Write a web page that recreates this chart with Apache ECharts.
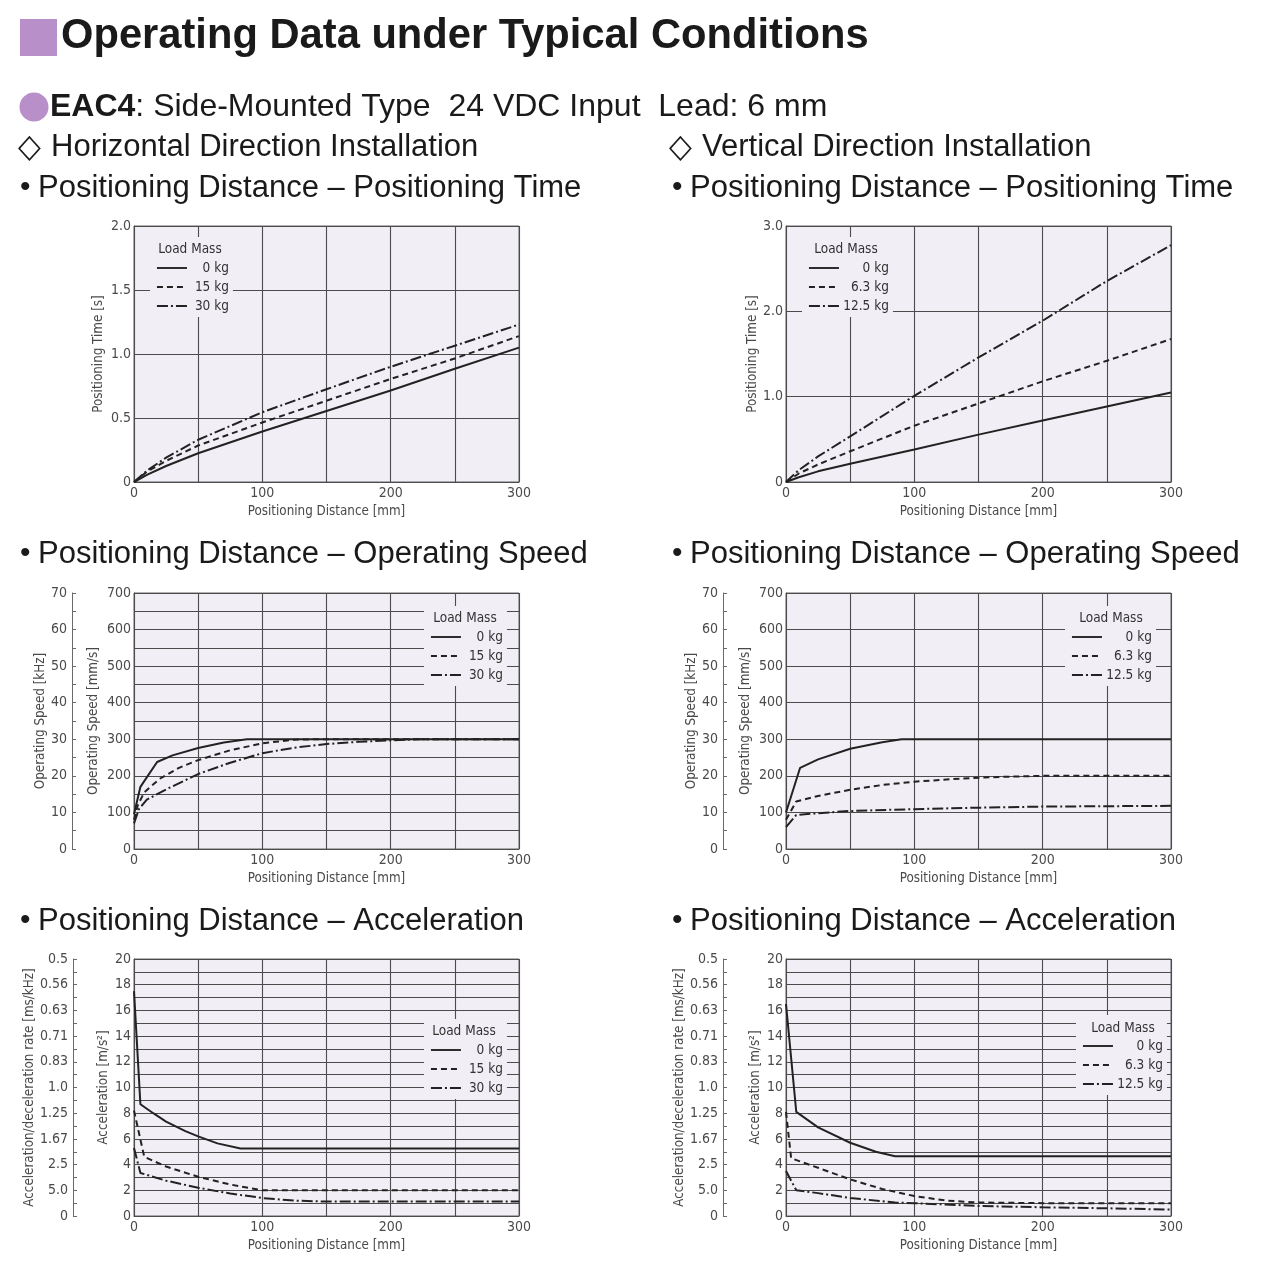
<!DOCTYPE html>
<html><head><meta charset="utf-8">
<script src="https://cdn.jsdelivr.net/npm/echarts@6/dist/echarts.min.js"></script>
<style>html,body{margin:0;padding:0;background:#fff}#c{width:1280px;height:1272px}</style>
</head><body><div id="c"></div>
<script>
// ---------- data ----------
const xTickLabels = ['0', '100', '200', '300'];
const timeTickLabelsH = ['0', '0.5', '1.0', '1.5', '2.0'];
const timeTickLabelsV = ['0', '1.0', '2.0', '3.0'];
const speedTickLabels = ['0', '100', '200', '300', '400', '500', '600', '700'];
const kHzTickLabels = ['0', '10', '20', '30', '40', '50', '60', '70'];
const accTickLabels = ['0', '2', '4', '6', '8', '10', '12', '14', '16', '18', '20'];
const accRateTickLabels = ['0', '5.0', '2.5', '1.67', '1.25', '1.0', '0.83', '0.71', '0.63', '0.56', '0.5'];

const massesH = ['0 kg', '15 kg', '30 kg'];
const massesV = ['0 kg', '6.3 kg', '12.5 kg'];

// Horizontal: positioning time [s]
const hTime0  = [[0,0],[10,0.055],[25,0.125],[50,0.225],[100,0.395],[150,0.555],[200,0.715],[250,0.885],[300,1.05]];
const hTime15 = [[0,0],[10,0.08],[25,0.165],[50,0.285],[100,0.465],[150,0.635],[200,0.805],[250,0.965],[300,1.14]];
const hTime30 = [[0,0],[10,0.088],[25,0.19],[50,0.33],[100,0.545],[150,0.725],[200,0.90],[250,1.065],[300,1.23]];
// Vertical: positioning time [s]
const vTime0   = [[0,0],[10,0.055],[25,0.125],[50,0.215],[100,0.38],[150,0.555],[200,0.72],[250,0.885],[300,1.05]];
const vTime63  = [[0,0],[10,0.1],[25,0.205],[50,0.36],[100,0.66],[150,0.92],[200,1.18],[250,1.42],[300,1.675]];
const vTime125 = [[0,0],[10,0.14],[25,0.3],[50,0.535],[100,1.01],[150,1.46],[200,1.89],[250,2.355],[300,2.775]];
// Horizontal: operating speed [mm/s]
const hSpeed0  = [[0,95],[5,170],[18,238],[30,256],[50,276],[70,291],[88,300],[300,300]];
const hSpeed15 = [[0,80],[3,120],[8,155],[20,192],[35,222],[50,243],[75,270],[100,289],[125,299],[140,300],[300,300]];
const hSpeed30 = [[0,70],[4,110],[10,135],[25,163],[50,205],[75,236],[100,262],[125,277],[150,287],[175,293],[200,297],[220,300],[300,300]];
// Vertical: operating speed [mm/s]
const vSpeed0   = [[0,100],[11,222],[25,245],[50,274],[75,292],[90,300],[300,300]];
const vSpeed63  = [[0,80],[8,130],[25,145],[50,162],[75,175],[100,184],[125,190],[150,195],[175,198],[200,200],[300,200]];
const vSpeed125 = [[0,60],[8,93],[25,98],[50,104],[100,109],[150,113],[200,116],[250,117],[300,118]];
// Horizontal: acceleration [m/s2]
const hAcc0  = [[0,17.5],[5,8.7],[15,8.0],[25,7.35],[40,6.6],[50,6.2],[65,5.65],[83,5.25],[300,5.25]];
const hAcc15 = [[0,8.2],[8,4.6],[25,3.85],[50,3.05],[75,2.45],[100,2.0],[300,2.0]];
const hAcc30 = [[0,5.3],[5,3.35],[25,2.75],[50,2.2],[75,1.75],[100,1.4],[125,1.2],[150,1.12],[300,1.12]];
// Vertical: acceleration [m/s2]
const vAcc0   = [[0,16.5],[8,8.1],[25,6.9],[50,5.7],[70,5.0],[85,4.65],[300,4.65]];
const vAcc63  = [[0,8.1],[4,4.5],[25,3.75],[50,2.85],[75,2.1],[100,1.55],[125,1.2],[150,1.05],[200,1.0],[300,1.0]];
const vAcc125 = [[0,3.5],[8,2.0],[25,1.78],[50,1.4],[85,1.05],[100,1.0],[150,0.78],[200,0.68],[250,0.6],[300,0.5]];

// ---------- styles ----------
const NARROW = '"DejaVu Sans Condensed", "Liberation Sans Narrow", sans-serif';
const SANS = '"Liberation Sans", Arial, sans-serif';
const PLOT_BG = '#f2eef5';
const GRIDC = '#4c4c4c';
const LINEC = '#222222';
const TXT = '#4a4a4a';
const dashTypes = ['solid', [6, 4], [11, 3, 2, 3]];

const grids = [
  {left: 134, top: 226, width: 385, height: 256},
  {left: 786, top: 226, width: 385, height: 256},
  {left: 134, top: 593, width: 385, height: 256},
  {left: 786, top: 593, width: 385, height: 256},
  {left: 134, top: 959, width: 385, height: 257},
  {left: 786, top: 959, width: 385, height: 257}
].map(g => Object.assign({show: true, backgroundColor: PLOT_BG, borderColor: '#666', borderWidth: 1, containLabel: false}, g));

const labelStyle = {fontFamily: NARROW, fontSize: 14, color: TXT};
const nameStyle = {fontFamily: NARROW, fontSize: 13.3, color: TXT};

const xAxes = grids.map((g, i) => ({
  type: 'value', gridIndex: i, min: 0, max: 300, interval: 50,
  name: 'Positioning Distance [mm]', nameLocation: 'middle', nameGap: 23, nameTextStyle: nameStyle,
  axisLine: {show: true, lineStyle: {color: GRIDC}}, axisTick: {show: false},
  axisLabel: Object.assign({margin: 4, formatter: v => (v % 100 === 0 ? xTickLabels[v / 100] : '')}, labelStyle),
  splitLine: {show: true, lineStyle: {color: GRIDC, width: 1.1}}
}));

function primaryY(i, max, interval, name, gap, fmt) {
  return {
    type: 'value', gridIndex: i, min: 0, max: max, interval: interval, position: 'left',
    name: name, nameLocation: 'middle', nameGap: gap, nameTextStyle: nameStyle,
    axisLine: {show: true, lineStyle: {color: GRIDC}}, axisTick: {show: false},
    axisLabel: Object.assign({margin: 3, formatter: fmt}, labelStyle),
    splitLine: {show: true, lineStyle: {color: GRIDC, width: 1.1}}
  };
}
function secondaryY(i, max, interval, offset, name, gap, fmt) {
  return {
    type: 'value', gridIndex: i, min: 0, max: max, interval: interval, position: 'left', offset: offset,
    name: name, nameLocation: 'middle', nameGap: gap, nameTextStyle: nameStyle,
    axisLine: {show: true, lineStyle: {color: '#6a6a6a'}},
    axisTick: {show: true, inside: true, length: 4, lineStyle: {color: '#6a6a6a'}},
    axisLabel: Object.assign({margin: 5, formatter: fmt}, labelStyle),
    splitLine: {show: false}
  };
}
const fmtTimeH = v => timeTickLabelsH[Math.round(v / 0.5)];
const fmtTimeV = v => timeTickLabelsV[Math.round(v)];
const fmtSpeed = v => (v % 100 === 0 ? speedTickLabels[v / 100] : '');
const fmtKHz = v => (v % 10 === 0 ? kHzTickLabels[v / 10] : '');
const fmtAcc = v => (v % 2 === 0 ? accTickLabels[v / 2] : '');
const fmtAccRate = v => (v % 2 === 0 ? accRateTickLabels[v / 2] : '');

const yAxes = [
  primaryY(0, 2, 0.5, 'Positioning Time [s]', 29, fmtTimeH),
  primaryY(1, 3, 1, 'Positioning Time [s]', 26, fmtTimeV),
  primaryY(2, 700, 50, 'Operating Speed [mm/s]', 34, fmtSpeed),
  primaryY(3, 700, 100, 'Operating Speed [mm/s]', 34, fmtSpeed),
  primaryY(4, 20, 1, 'Acceleration [m/s²]', 24, fmtAcc),
  primaryY(5, 20, 1, 'Acceleration [m/s²]', 24, fmtAcc),
  secondaryY(2, 70, 5, 62, 'Operating Speed [kHz]', 24, fmtKHz),
  secondaryY(3, 70, 5, 63, 'Operating Speed [kHz]', 23, fmtKHz),
  secondaryY(4, 20, 1, 61, 'Acceleration/deceleration rate [ms/kHz]', 35, fmtAccRate),
  secondaryY(5, 20, 1, 63, 'Acceleration/deceleration rate [ms/kHz]', 31, fmtAccRate)
];

const chartData = [
  [hTime0, hTime15, hTime30],
  [vTime0, vTime63, vTime125],
  [hSpeed0, hSpeed15, hSpeed30],
  [vSpeed0, vSpeed63, vSpeed125],
  [hAcc0, hAcc15, hAcc30],
  [vAcc0, vAcc63, vAcc125]
];
const series = [];
chartData.forEach((sets, gi) => {
  const names = gi % 2 === 0 ? massesH : massesV;
  sets.forEach((d, k) => {
    series.push({
      type: 'line', name: names[k], xAxisIndex: gi, yAxisIndex: gi, data: d,
      symbol: 'none', smooth: false, silent: true, z: 3, color: LINEC,
      itemStyle: {color: LINEC},
      lineStyle: {color: LINEC, width: 2, type: dashTypes[k]}
    });
  });
});

const legendPos = [
  {left: 150, top: 237, w: 37},
  {left: 802, top: 237, w: 45},
  {left: 424, top: 606, w: 37},
  {left: 1065, top: 606, w: 45},
  {left: 424, top: 1019, w: 37},
  {left: 1076, top: 1015, w: 45}
];
const legends = legendPos.map((p, i) => ({
  orient: 'vertical', left: p.left, top: p.top,
  data: i % 2 === 0 ? massesH : massesV,
  itemWidth: 30, itemHeight: 14, itemGap: 5,
  padding: [24, 4, 4, 6], backgroundColor: PLOT_BG,
  selectedMode: false,
  itemStyle: {opacity: 0, borderWidth: 0},
  lineStyle: {color: LINEC, width: 1.9},
  formatter: '{r|{name}}',
  textStyle: {fontFamily: NARROW, fontSize: 13.5, color: '#333',
    rich: {r: {width: p.w, align: 'right', fontFamily: NARROW, fontSize: 13.5, color: '#333'}}}
}));

const legendTitles = [[190, 249], [846, 249], [465, 618], [1111, 618], [464, 1031], [1123, 1028]];

function txt(text, x, y, font, extra) {
  return {type: 'text', z: 100, style: Object.assign({text: text, x: x, y: y, font: font, fill: '#1a1a1a', align: 'left', verticalAlign: 'middle'}, extra || {})};
}
const HEAD = '31px ' + SANS;
const BUL = '30px ' + SANS;
const DIA = '33px ' + NARROW;
const graphics = [
  {type: 'rect', z: 100, shape: {x: 20, y: 19, width: 37, height: 37}, style: {fill: '#b88fc8'}},
  txt('Operating Data under Typical Conditions', 61, 37, 'bold 41.7px ' + SANS),
  {type: 'circle', z: 100, shape: {cx: 34, cy: 107, r: 14.5}, style: {fill: '#b88fc8'}},
  {type: 'text', z: 100, style: {text: '{b|EAC4}: Side-Mounted Type  24 VDC Input  Lead: 6 mm', x: 50, y: 107,
    font: '32px ' + SANS, fill: '#1a1a1a', align: 'left', verticalAlign: 'middle',
    rich: {b: {fontWeight: 'bold', fontSize: 32, fontFamily: SANS, fill: '#1a1a1a'}}}},
  txt('◇', 18, 148, DIA),
  txt('Horizontal Direction Installation', 51, 147, HEAD),
  txt('◇', 669, 148, DIA),
  txt('Vertical Direction Installation', 702, 147, HEAD),
  txt('•', 20, 188, BUL), txt('Positioning Distance – Positioning Time', 38, 188, HEAD),
  txt('•', 672, 188, BUL), txt('Positioning Distance – Positioning Time', 690, 188, HEAD),
  txt('•', 20, 554, BUL), txt('Positioning Distance – Operating Speed', 38, 554, HEAD),
  txt('•', 672, 554, BUL), txt('Positioning Distance – Operating Speed', 690, 554, HEAD),
  txt('•', 20, 921, BUL), txt('Positioning Distance – Acceleration', 38, 921, HEAD),
  txt('•', 672, 921, BUL), txt('Positioning Distance – Acceleration', 690, 921, HEAD)
];
legendTitles.forEach(p => graphics.push({type: 'text', z: 100,
  style: {text: 'Load Mass', x: p[0], y: p[1], font: '13.5px ' + NARROW, fill: '#333', align: 'center', verticalAlign: 'middle'}}));

const chart = echarts.init(document.getElementById('c'), null, {renderer: 'canvas'});
chart.setOption({
  animation: false,
  backgroundColor: '#ffffff',
  grid: grids, xAxis: xAxes, yAxis: yAxes, series: series,
  legend: legends, graphic: graphics
});
</script></body></html>
